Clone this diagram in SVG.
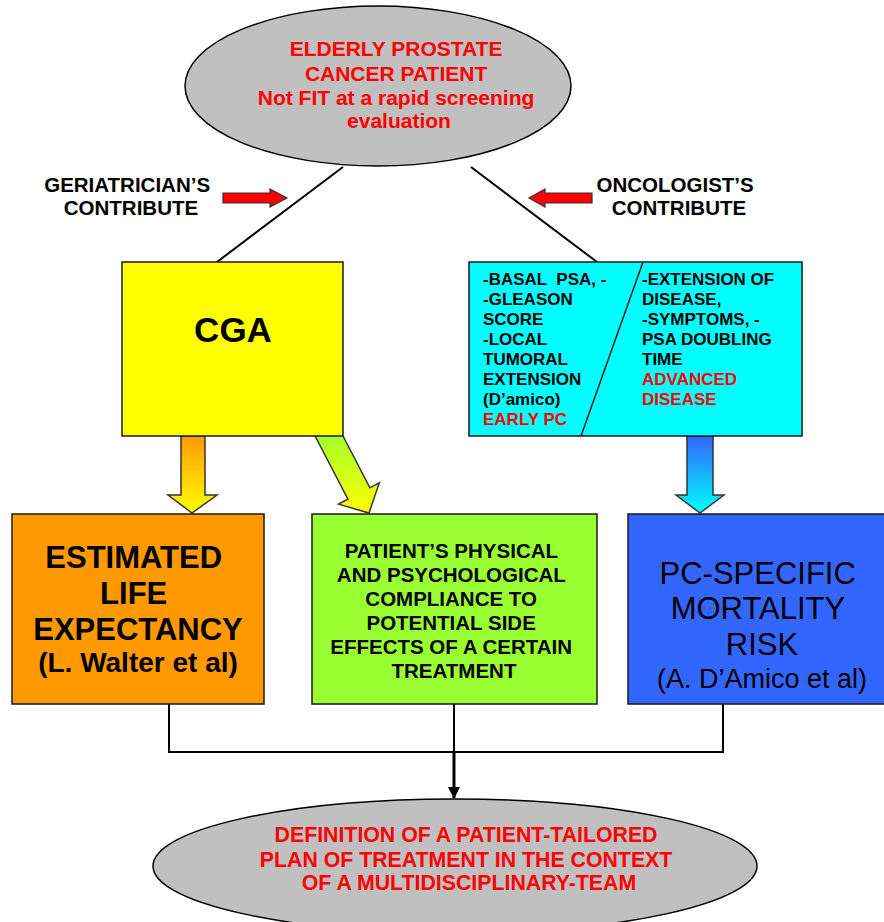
<svg xmlns="http://www.w3.org/2000/svg" width="884" height="922" viewBox="0 0 884 922">
<style>
text{font-family:"Liberation Sans",Arial,Helvetica,sans-serif;}
.b{font-weight:bold;}
.red{fill:#ff0000;}
.blk{fill:#000;}
.box{stroke:#1a1a1a;stroke-width:1.5;}
.ell{fill:#c0c0c0;stroke:#000;stroke-width:1.5;}
.con{fill:none;stroke:#000;stroke-width:2;}
.garrow{stroke:#333;stroke-width:1.5;stroke-linejoin:miter;}
.rarrow{fill:#ff0000;stroke:#333;stroke-width:1.2;}
</style>
<defs>
<linearGradient id="gOrange" x1="0" y1="0" x2="0" y2="1"><stop offset="0" stop-color="#ff9900"/><stop offset="1" stop-color="#ffff00"/></linearGradient>
<linearGradient id="gGreen" x1="0" y1="0" x2="0" y2="1"><stop offset="0" stop-color="#99ff33"/><stop offset="1" stop-color="#ffff00"/></linearGradient>
<linearGradient id="gBlue" x1="0" y1="0" x2="0" y2="1"><stop offset="0" stop-color="#3366ff"/><stop offset="1" stop-color="#00ffff"/></linearGradient>
<marker id="ah" markerWidth="14" markerHeight="12" refX="11" refY="6" orient="auto" markerUnits="userSpaceOnUse"><path d="M0,0 L12,6 L0,12 Z" fill="#000"/></marker>
</defs>

<g id="connectors">
<line class="con" x1="343" y1="167" x2="217" y2="262"/>
<line class="con" x1="471" y1="167" x2="597" y2="262"/>
<path class="con" d="M169,704 V752 H723 V704"/>
<line class="con" x1="454" y1="704" x2="454" y2="752"/>
<line x1="454" y1="752" x2="454" y2="798" stroke="#000" stroke-width="3" marker-end="url(#ah)"/>
<polygon class="rarrow" points="223,193 270,193 270,189 287,198 270,207 270,203 223,203"/>
<polygon class="rarrow" points="592,193 545,193 545,189 529,198 545,207 545,203 592,203"/>
<polygon class="garrow" fill="url(#gOrange)" points="181,436 205,436 205,495 217,495 192,513 168,495 181,495"/>
<polygon class="garrow" fill="url(#gGreen)" points="309.9,426 337.8,426 369.9,487.8 379.3,482.9 369,513 338.5,504.1 347.9,499.2"/>
<polygon class="garrow" fill="url(#gBlue)" points="687,436 713,436 713,495 724,495 700,513 676,495 687,495"/>
</g>

<g id="patient">
<ellipse class="ell" cx="378" cy="86" rx="193" ry="80"/>
<text class="b red" font-size="21" text-anchor="middle">
<tspan x="399" y="56">ELDERLY PROSTATE</tspan>
<tspan x="399" y="81">CANCER PATIENT</tspan>
<tspan x="399" y="105">Not FIT at a rapid screening</tspan>
<tspan x="399" y="128">evaluation</tspan>
</text>
</g>

<g id="geriatrician">
<text class="b blk" font-size="20.5" text-anchor="middle">
<tspan x="130" y="192">GERIATRICIAN’S</tspan>
<tspan x="131" y="215">CONTRIBUTE</tspan>
</text>
</g>

<g id="oncologist">
<text class="b blk" font-size="20.5" text-anchor="middle">
<tspan x="678" y="192">ONCOLOGIST’S</tspan>
<tspan x="679" y="215">CONTRIBUTE</tspan>
</text>
</g>

<g id="cga">
<rect class="box" x="122" y="262" width="221" height="174" fill="#ffff00"/>
<text class="b blk" font-size="35" x="233" y="342" text-anchor="middle">CGA</text>
</g>

<g id="oncology-criteria">
<rect class="box" x="469" y="262" width="333" height="174" fill="#00ffff"/>
<line x1="643" y1="262" x2="581" y2="436" stroke="#1a1a1a" stroke-width="1.5"/>
<text class="b blk" font-size="17" xml:space="preserve">
<tspan x="483" y="285">-BASAL  PSA, -</tspan>
<tspan x="483" y="305">-GLEASON</tspan>
<tspan x="483" y="325">SCORE</tspan>
<tspan x="483" y="345">-LOCAL</tspan>
<tspan x="483" y="365">TUMORAL</tspan>
<tspan x="483" y="385">EXTENSION</tspan>
<tspan x="483" y="405">(D’amico)</tspan>
</text>
<text class="b red" font-size="17" x="483" y="425">EARLY PC</text>
<text class="b blk" font-size="17">
<tspan x="642" y="285">-EXTENSION OF</tspan>
<tspan x="642" y="305">DISEASE,</tspan>
<tspan x="642" y="325">-SYMPTOMS, -</tspan>
<tspan x="642" y="345">PSA DOUBLING</tspan>
<tspan x="642" y="365">TIME</tspan>
</text>
<text class="b red" font-size="17">
<tspan x="642" y="385">ADVANCED</tspan>
<tspan x="642" y="405">DISEASE</tspan>
</text>
</g>

<g id="life-expectancy">
<rect class="box" x="12" y="514" width="252" height="190" fill="#ff9900"/>
<text class="b blk" font-size="31" text-anchor="middle">
<tspan x="138" y="568">ESTIMATED</tspan>
<tspan x="138" y="604">LIFE</tspan>
<tspan x="138" y="640">EXPECTANCY</tspan>
</text>
<text class="b blk" font-size="28" x="138" y="672" text-anchor="middle">(L. Walter et al)</text>
</g>

<g id="compliance">
<rect class="box" x="312" y="514" width="285" height="190" fill="#99ff33"/>
<text class="b blk" font-size="20.5" text-anchor="middle">
<tspan x="454" y="558">PATIENT’S PHYSICAL</tspan>
<tspan x="454" y="582">AND PSYCHOLOGICAL</tspan>
<tspan x="454" y="606">COMPLIANCE TO</tspan>
<tspan x="454" y="630">POTENTIAL SIDE</tspan>
<tspan x="454" y="654">EFFECTS OF A CERTAIN</tspan>
<tspan x="454" y="678">TREATMENT</tspan>
</text>
</g>

<g id="mortality-risk">
<rect class="box" x="628" y="514" width="268" height="190" fill="#3366ff"/>
<text class="blk" font-size="31" text-anchor="middle">
<tspan x="762" y="584">PC-SPECIFIC</tspan>
<tspan x="762" y="619">MORTALITY</tspan>
<tspan x="762" y="655">RISK</tspan>
</text>
<text class="blk" font-size="27" x="762" y="688" text-anchor="middle">(A. D’Amico et al)</text>
</g>

<g id="treatment-plan">
<ellipse class="ell" cx="455" cy="866" rx="302" ry="67"/>
<text class="b red" font-size="21.3" text-anchor="middle">
<tspan x="469" y="842">DEFINITION OF A PATIENT-TAILORED</tspan>
<tspan x="469" y="867">PLAN OF TREATMENT IN THE CONTEXT</tspan>
<tspan x="469" y="890">OF A MULTIDISCIPLINARY-TEAM</tspan>
</text>
</g>
</svg>
